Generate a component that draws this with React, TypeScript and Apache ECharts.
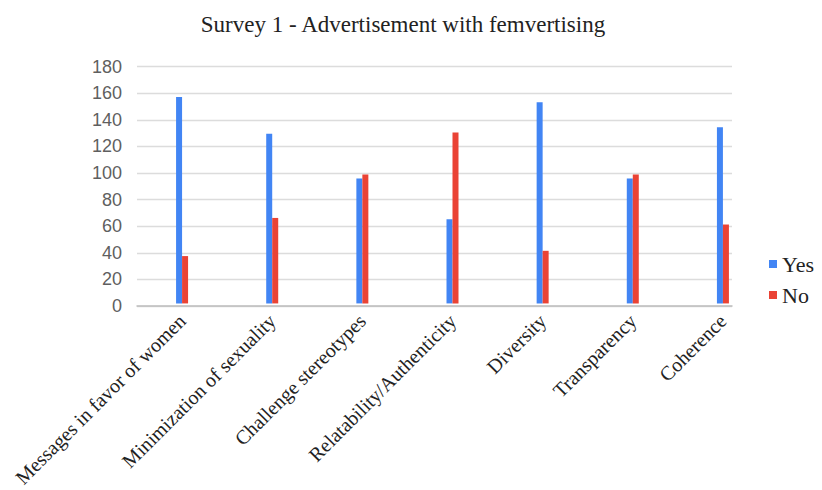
import React, { useEffect, useRef } from "react";
import * as echarts from "echarts";

const categories = [
  "Messages in favor of women",
  "Minimization of sexuality",
  "Challenge stereotypes",
  "Relatability/Authenticity",
  "Diversity",
  "Transparency",
  "Coherence",
];
const yesValues = [157, 129, 95, 64, 153, 95, 134];
const noValues = [36, 65, 98, 130, 40, 98, 60];
const yMin = 0;
const yMax = 180;
const yInterval = 20;

export default function App() {
  const ref = useRef<HTMLDivElement>(null);
  useEffect(() => {
    if (!ref.current) return;
    const chart = echarts.init(ref.current, null, { renderer: "svg" });
    const serif = "'Liberation Serif', 'DejaVu Serif', serif";
    chart.setOption({
      animation: false,
      backgroundColor: "#ffffff",
      title: {
        text: "Survey 1 - Advertisement with femvertising",
        left: 398,
        textAlign: "center",
        top: 8,
        textStyle: { fontFamily: serif, fontSize: 23, fontWeight: "normal", color: "#222" },
      },
      legend: {
        orient: "vertical",
        left: 764,
        top: 248,
        itemGap: 9,
        itemWidth: 8,
        itemHeight: 8,
        icon: "rect",
        textStyle: { fontFamily: serif, fontSize: 22, color: "#222" },
        data: ["Yes", "No"],
      },
      grid: [
        { left: 137, right: 90, top: 66.7, bottom: 184 },
        { left: 137, right: 54, top: 66.7, bottom: 184 },
      ],
      xAxis: [
        {
          gridIndex: 0,
          type: "category",
          data: categories,
          axisLabel: { show: false },
          axisTick: { show: false },
          axisLine: { show: true, lineStyle: { color: "#bdbdbd", width: 1.5 } },
        },
        {
          gridIndex: 1,
          type: "category",
          data: categories,
          axisTick: { show: false },
          axisLine: { show: false },
          axisLabel: {
            rotate: 45,
            margin: 14,
            interval: 0,
            fontFamily: serif,
            fontSize: 20,
            color: "#222",
          },
        },
      ],
      yAxis: [
        {
          gridIndex: 0,
          type: "value",
          min: yMin,
          max: yMax,
          interval: yInterval,
          axisLine: { show: false },
          axisTick: { show: false },
          axisLabel: {
            margin: 15,
            fontFamily: "'Liberation Sans', Arial, sans-serif",
            fontSize: 18,
            color: "#5f5f5f",
          },
          splitLine: { lineStyle: { color: "#dcdcdc", width: 1.3 } },
        },
        {
          gridIndex: 1,
          type: "value",
          min: yMin,
          max: yMax,
          interval: yInterval,
          show: false,
          splitLine: { show: false },
        },
      ],
      series: [
        {
          name: "Yes",
          type: "bar",
          xAxisIndex: 1,
          yAxisIndex: 1,
          data: yesValues,
          barWidth: 6,
          barGap: "0%",
          itemStyle: { color: "#4285f4" },
        },
        {
          name: "No",
          type: "bar",
          xAxisIndex: 1,
          yAxisIndex: 1,
          data: noValues,
          barWidth: 6,
          barGap: "0%",
          itemStyle: { color: "#ea4335" },
        },
      ],
    });
    return () => chart.dispose();
  }, []);
  return (
    <div
      ref={ref}
      style={{ position: "absolute", left: 0, top: 0, width: 822, height: 490 }}
    />
  );
}
